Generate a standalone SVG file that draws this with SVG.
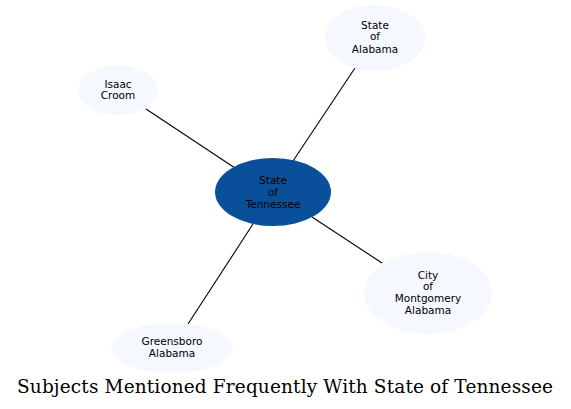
<svg xmlns="http://www.w3.org/2000/svg" width="571" height="409" viewBox="0 0 571 409">
<style>
.n text{font-family:"DejaVu Sans",sans-serif;font-size:10.5px;text-anchor:middle;fill:#000}
.lite{fill:#f5f8fe;stroke:none}
.main{fill:#0a4f9a;stroke:none}
.e line{stroke:#000;stroke-width:1.1}
.t{font-family:"DejaVu Serif",serif;font-size:18.5px;fill:#000}
</style>
<rect width="571" height="409" fill="#fff"/>
<g class="e" id="edges">
<line x1="293" y1="161" x2="355" y2="68"/>
<line x1="235" y1="168" x2="146" y2="109"/>
<line x1="312" y1="217" x2="382" y2="263"/>
<line x1="253" y1="224" x2="188" y2="324"/>
</g>
<g class="n" id="n-tennessee">
<ellipse class="main" cx="273" cy="192" rx="58" ry="34"/>
<text x="273" y="184">State</text>
<text x="273" y="195.5">of</text>
<text x="273" y="207.5">Tennessee</text>
</g>
<g class="n" id="n-alabama">
<ellipse class="lite" cx="375" cy="38" rx="50" ry="33"/>
<text x="375" y="28.5">State</text>
<text x="375" y="40">of</text>
<text x="375" y="52.5">Alabama</text>
</g>
<g class="n" id="n-croom">
<ellipse class="lite" cx="118" cy="90" rx="40" ry="25"/>
<text x="118" y="87.5">Isaac</text>
<text x="118" y="98.5">Croom</text>
</g>
<g class="n" id="n-montgomery">
<ellipse class="lite" cx="428" cy="293" rx="64" ry="41"/>
<text x="428" y="278.5">City</text>
<text x="428" y="290">of</text>
<text x="428" y="301.5">Montgomery</text>
<text x="428" y="313.5">Alabama</text>
</g>
<g class="n" id="n-greensboro">
<ellipse class="lite" cx="172" cy="348" rx="61" ry="25"/>
<text x="172" y="345">Greensboro</text>
<text x="172" y="356.5">Alabama</text>
</g>
<text class="t" x="17" y="393" textLength="536" lengthAdjust="spacing">Subjects Mentioned Frequently With State of Tennessee</text>
</svg>
